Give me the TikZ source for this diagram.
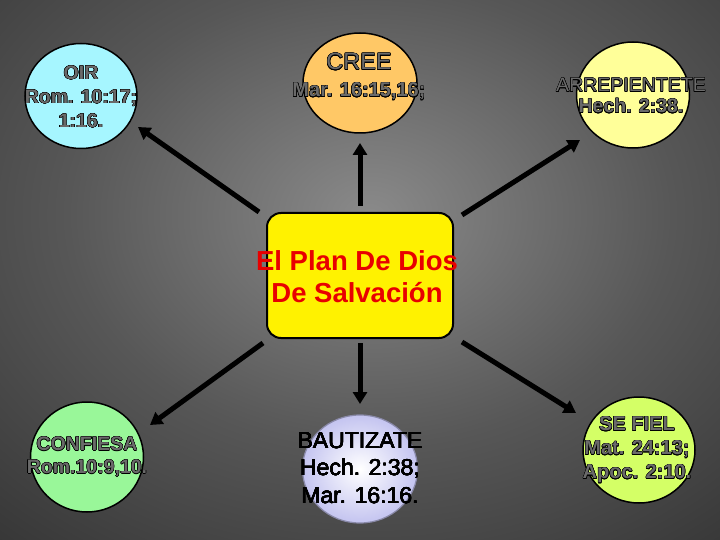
\documentclass[tikz,border=0pt]{standalone}
\usepackage{fontspec}
\setmainfont{Liberation Sans}
\usepackage[copies]{contour}
\usetikzlibrary{arrows.meta,shapes.geometric}
\contourlength{0.45pt}
\contournumber{16}
\definecolor{bgA}{HTML}{8A8A8A}
\definecolor{bgB}{HTML}{575757}
\definecolor{bgC}{HTML}{161616}
\definecolor{txtgray}{HTML}{6A6A6A}
\definecolor{cOir}{HTML}{A6F6FF}
\definecolor{cCree}{HTML}{FFC866}
\definecolor{cArr}{HTML}{FFFF99}
\definecolor{cConf}{HTML}{99F799}
\definecolor{cBau}{HTML}{C4C4F0}
\definecolor{cFiel}{HTML}{D4FF66}
\definecolor{planred}{HTML}{E80000}
\pgfdeclareradialshading{bgshade}{\pgfpoint{0bp}{0bp}}{color(0bp)=(bgA); color(9bp)=(bgB); color(25bp)=(bgC); color(50bp)=(bgC)}
\tikzset{
  bubble/.style={ellipse, draw=black, line width=1.5pt, inner sep=0pt},
  gtxt/.style={text=txtgray, align=center, inner sep=0pt},
  arw/.style={line width=5pt, black, -{Triangle[length=12pt,width=14pt]}}
}
\begin{document}
\begin{tikzpicture}[x=1pt,y=-1pt]
\useasboundingbox (0,0) rectangle (720,540);
\fill[bgC] (0,0) rectangle (720,540);
\begin{scope}
\clip (0,0) rectangle (720,540);
\shade[shading=bgshade] (370,215) ellipse [x radius=840pt, y radius=640pt];
\end{scope}

% circles
\node[bubble, fill=cOir, minimum width=112pt, minimum height=105pt] (oir) at (81,96) {};
\node[bubble, fill=cCree, minimum width=114pt, minimum height=100pt] (cree) at (360,83) {};
\node[bubble, fill=cArr, minimum width=113pt, minimum height=106pt] (arr) at (633,95) {};
\node[bubble, fill=cConf, minimum width=113pt, minimum height=110pt] (conf) at (87,457) {};
\node[ellipse, draw=cBau!70!black, line width=1.2pt, inner color=white, outer color=cBau, minimum width=115pt, minimum height=108pt] (bau) at (360,469) {};
\node[bubble, fill=cFiel, minimum width=112pt, minimum height=106pt] (fiel) at (639,450) {};

% centre box
\node[draw=black, line width=2pt, fill=yellow, rounded corners=14pt, minimum width=186pt, minimum height=125pt] (plan) at (360,275.5) {};
\node[text=planred, align=center, inner sep=0pt, font=\fontsize{27.5}{32}\selectfont\bfseries] (plantxt) at (357,277) {El Plan De Dios\\De Salvación};

% texts
\node[gtxt, font=\fontsize{19.5}{24}\selectfont\bfseries] (toir) at (81,97) {\contour{black}{OIR}\\\contour{black}{Rom. 10:17;}\\\contour{black}{1:16.}};
\node[gtxt, font=\fontsize{20}{27}\selectfont\bfseries] (tcree) at (359,77) {\contour{black}{\fontsize{23.5}{27}\selectfont\mdseries CREE}\\\contour{black}{Mar. 16:15,16;}};
\node[gtxt, font=\fontsize{19.5}{21}\selectfont\bfseries] (tarr) at (631,96) {\contour{black}{\mdseries ARREPIENTETE}\\\contour{black}{Hech. 2:38.}};
\node[gtxt, font=\fontsize{19.5}{23}\selectfont\bfseries] (tconf) at (87,457) {\contour{black}{CONFIESA}\\\contour{black}{Rom.10:9,10.}};
\node[text=black, align=center, inner sep=0pt, font=\fontsize{23}{27.5}\selectfont\contourlength{0.2pt}] (tbau) at (360,468) {\contour[8]{black}{BAUTIZATE}\\\contour[8]{black}{Hech. 2:38;}\\\contour[8]{black}{Mar. 16:16.}};
\node[gtxt, font=\fontsize{20}{24}\selectfont\bfseries] (tfiel) at (637,450) {\contour{black}{SE FIEL}\\\contour{black}{Mat. 24:13;}\\\contour{black}{Apoc. 2:10.}};

% arrow end points
\coordinate (a1t) at (259,212); \coordinate (a1h) at (138,127);
\coordinate (a2t) at (360,206); \coordinate (a2h) at (360,143);
\coordinate (a3t) at (462,215); \coordinate (a3h) at (580,140);
\coordinate (a4t) at (360,343); \coordinate (a4h) at (360,404);
\coordinate (a5t) at (263,343); \coordinate (a5h) at (150,425);
\coordinate (a6t) at (462,342); \coordinate (a6h) at (576,413);
\draw[arw] (a1t) -- (a1h);
\draw[arw] (a2t) -- (a2h);
\draw[arw] (a3t) -- (a3h);
\draw[arw] (a4t) -- (a4h);
\draw[arw] (a5t) -- (a5h);
\draw[arw] (a6t) -- (a6h);
\end{tikzpicture}
\end{document}
